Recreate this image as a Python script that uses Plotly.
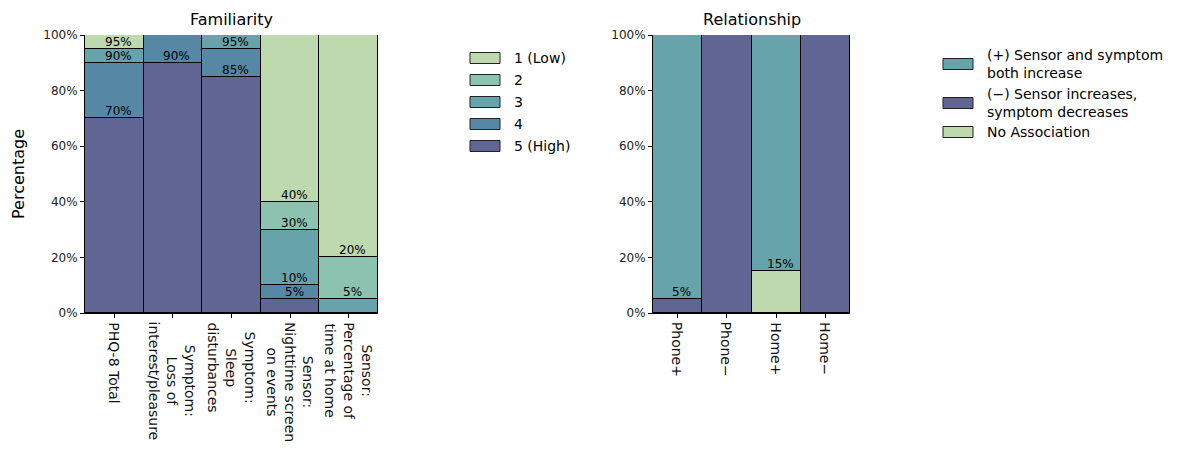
import numpy as np
import plotly.graph_objects as go

W, H = 1177, 450

# ---- Familiarity data (percent of respondents per rating) ----
fam_categories = [
    "PHQ-8 Total",
    "Symptom:<br>Loss of<br>interest/pleasure",
    "Symptom:<br>Sleep<br>disturbances",
    "Sensor:<br>Nighttime screen<br>on events",
    "Sensor:<br>Percentage of<br>time at home",
]
fam_levels = ["5 (High)", "4", "3", "2", "1 (Low)"]          # bottom -> top
fam_values = {
    "5 (High)": [70, 90, 85, 5, 0],
    "4":        [20, 10, 10, 5, 0],
    "3":        [5, 0, 5, 20, 5],
    "2":        [0, 0, 0, 10, 15],
    "1 (Low)":  [5, 0, 0, 60, 80],
}
fam_colors = {
    "1 (Low)": "#bdd9ad",
    "2": "#8cc2b0",
    "3": "#66a3aa",
    "4": "#5688a5",
    "5 (High)": "#616594",
}
fam_legend_order = ["1 (Low)", "2", "3", "4", "5 (High)"]

# ---- Relationship data ----
rel_categories = ["Phone+", "Phone−", "Home+", "Home−"]
rel_levels = ["(−) Sensor increases,<br>symptom decreases", "No Association",
              "(+) Sensor and symptom<br>both increase"]      # bottom -> top
rel_values = {
    "(−) Sensor increases,<br>symptom decreases": [5, 100, 0, 100],
    "No Association": [0, 0, 15, 0],
    "(+) Sensor and symptom<br>both increase": [95, 0, 85, 0],
}
rel_colors = {
    "(+) Sensor and symptom<br>both increase": "#66a3aa",
    "(−) Sensor increases,<br>symptom decreases": "#616594",
    "No Association": "#bdd9ad",
}
rel_legend_order = ["(+) Sensor and symptom<br>both increase",
                    "(−) Sensor increases,<br>symptom decreases",
                    "No Association"]

y_ticks = [0, 20, 40, 60, 80, 100]
y_ticklabels = [f"{v}%" for v in y_ticks]

FONT = "DejaVu Sans"

fig = go.Figure()


def add_stack(levels, values, colors, xa, ya):
    n = len(next(iter(values.values())))
    xs = list(range(n))
    for lvl in levels:
        fig.add_trace(go.Bar(
            x=xs, y=values[lvl], name=lvl, width=1.0,
            marker=dict(color=colors[lvl], line=dict(color="black", width=1)),
            xaxis=xa, yaxis=ya, showlegend=False, hoverinfo="skip",
        ))
    # cumulative labels at each internal segment boundary
    cum = np.zeros(n)
    for lvl in levels:
        v = np.array(values[lvl], dtype=float)
        cum = cum + v
        for i in range(n):
            if v[i] > 0 and cum[i] < 100:
                fig.add_annotation(
                    x=i, y=cum[i], xref=xa, yref=ya, text=f"{int(cum[i])}%",
                    showarrow=False, yanchor="bottom", xanchor="center",
                    xshift=4, yshift=-2, font=dict(family=FONT, size=12, color="black"),
                )


def add_category_labels(categories, xa):
    # rotated, centre-aligned category names hanging below the x axis
    for i, cat in enumerate(categories):
        fig.add_annotation(
            x=i, y=1 - 320 / H, xref=xa, yref="paper", text=cat, textangle=90,
            showarrow=False, xanchor="center", yanchor="top", align="center",
            font=dict(family=FONT, size=14, color="#111"),
        )


add_stack(fam_levels, fam_values, fam_colors, "x", "y")
add_stack(rel_levels, rel_values, rel_colors, "x2", "y2")
add_category_labels(fam_categories, "x")
add_category_labels(rel_categories, "x2")

ytop, ybot = 35, 313
ydom = [1 - ybot / H, 1 - ytop / H]

axis_common = dict(showgrid=False, zeroline=False, showline=True, linecolor="black",
                   linewidth=1, ticks="outside", ticklen=4, tickcolor="black",
                   automargin=False,
                   tickfont=dict(family=FONT, size=12, color="#222"))

fig.update_layout(
    width=W, height=H, margin=dict(l=0, r=0, t=0, b=0),
    plot_bgcolor="white", paper_bgcolor="white", barmode="stack", bargap=0,
    showlegend=False,
    xaxis=dict(domain=[85 / W, 378 / W], range=[-0.5, 4.5], anchor="y",
               tickvals=list(range(len(fam_categories))), showticklabels=False,
               **axis_common),
    yaxis=dict(domain=ydom, range=[0, 100], anchor="x", tickvals=y_ticks,
               ticktext=y_ticklabels, **axis_common),
    xaxis2=dict(domain=[653 / W, 850 / W], range=[-0.5, 3.5], anchor="y2",
                tickvals=list(range(len(rel_categories))), showticklabels=False,
                **axis_common),
    yaxis2=dict(domain=ydom, range=[0, 100], anchor="x2", tickvals=y_ticks,
                ticktext=y_ticklabels, **axis_common),
)

# titles and y label
fig.add_annotation(x=(85 + 378) / 2 / W, y=1 - 19 / H, xref="paper", yref="paper",
                   text="Familiarity", showarrow=False, xanchor="center", yanchor="middle",
                   font=dict(family=FONT, size=16, color="black"))
fig.add_annotation(x=(653 + 850) / 2 / W, y=1 - 19 / H, xref="paper", yref="paper",
                   text="Relationship", showarrow=False, xanchor="center", yanchor="middle",
                   font=dict(family=FONT, size=16, color="black"))
fig.add_annotation(x=18 / W, y=1 - 174 / H, xref="paper", yref="paper",
                   text="Percentage", textangle=-90, showarrow=False,
                   xanchor="center", yanchor="middle",
                   font=dict(family=FONT, size=16, color="black"))


def draw_legend(order, colors, x0, centers):
    for name, cy in zip(order, centers):
        fig.add_shape(type="rect", xref="paper", yref="paper",
                      x0=x0 / W, x1=(x0 + 30) / W,
                      y0=1 - (cy + 5.5) / H, y1=1 - (cy - 5.5) / H,
                      fillcolor=colors[name], line=dict(color="#222", width=1))
        fig.add_annotation(x=(x0 + 42) / W, y=1 - cy / H, xref="paper", yref="paper",
                           text=name, showarrow=False, xanchor="left", yanchor="middle",
                           align="left", font=dict(family=FONT, size=14, color="black"))


draw_legend(fam_legend_order, fam_colors, 470, [58, 80, 102, 124, 146])
draw_legend(rel_legend_order, rel_colors, 943, [64, 103, 132])

fig.write_html("out.html")
